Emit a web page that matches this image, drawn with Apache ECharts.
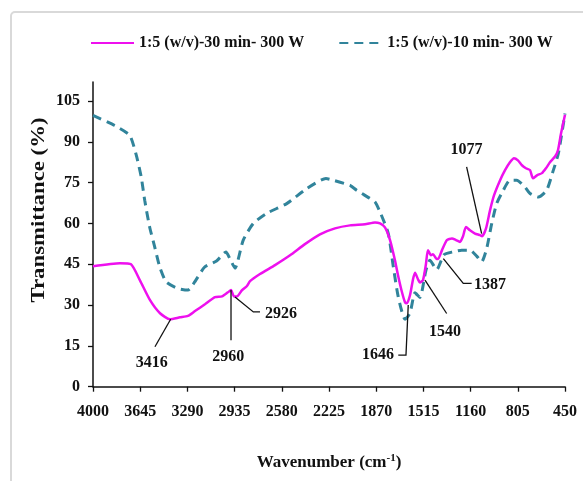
<!DOCTYPE html>
<html><head><meta charset="utf-8">
<script src="https://cdn.jsdelivr.net/npm/echarts@6/dist/echarts.min.js"></script>
<style>html,body{margin:0;padding:0;background:#fff}#c{width:583px;height:481px}</style>
</head><body><div id="c"></div>
<script>
const seriesNames = ['1:5 (w/v)-30 min- 300 W', '1:5 (w/v)-10 min- 300 W'];
const xTickLabels = [4000, 3645, 3290, 2935, 2580, 2225, 1870, 1515, 1160, 805, 450];
const yTickValues = [0, 15, 30, 45, 60, 75, 90, 105];

// 30 min series (wavenumber, transmittance)
const wn30 = [4000, 3797, 3714, 3646, 3571, 3496, 3421, 3346, 3286, 3233, 3158, 3082, 3030, 2985, 2962, 2940, 2917, 2879, 2842, 2819, 2744, 2631, 2518, 2406, 2293, 2180, 2067, 1954, 1879, 1841, 1804, 1766, 1729, 1706, 1676, 1653, 1638, 1616, 1593, 1578, 1556, 1541, 1518, 1496, 1481, 1458, 1443, 1420, 1405, 1375, 1338, 1300, 1270, 1240, 1217, 1195, 1165, 1127, 1089, 1074, 1044, 1014, 984, 939, 901, 864, 834, 804, 774, 744, 713, 691, 661, 623, 593, 563, 525, 503, 480, 450];
const tr30 = [44.3, 45.4, 45.0, 39.0, 31.8, 27.0, 24.8, 25.5, 26.0, 27.8, 30.3, 32.9, 33.2, 34.7, 35.5, 33.2, 33.2, 35.5, 37.0, 38.8, 41.4, 44.7, 48.3, 52.4, 56.0, 58.2, 59.3, 59.7, 60.4, 60.0, 58.6, 53.9, 46.5, 41.0, 34.7, 31.0, 30.7, 33.6, 39.5, 41.9, 39.5, 38.3, 39.2, 45.0, 50.2, 48.3, 48.7, 47.2, 46.9, 50.2, 53.9, 54.5, 53.9, 53.2, 55.3, 58.7, 57.5, 56.3, 55.7, 55.3, 58.2, 64.8, 70.3, 75.8, 79.6, 82.5, 84.0, 83.2, 81.4, 80.3, 79.6, 76.6, 77.7, 78.5, 80.3, 82.5, 84.6, 86.9, 93.1, 100.0];

// 10 min series
const wn10 = [4000, 3837, 3724, 3674, 3637, 3611, 3574, 3536, 3498, 3449, 3361, 3286, 3235, 3160, 3071, 3000, 2970, 2932, 2870, 2794, 2694, 2543, 2393, 2248, 2195, 2067, 2017, 1917, 1879, 1841, 1779, 1741, 1704, 1653, 1616, 1578, 1541, 1496, 1466, 1415, 1360, 1290, 1227, 1165, 1114, 1077, 1039, 1001, 964, 914, 864, 813, 751, 713, 651, 588, 538, 500, 450];
const tr10 = [99.7, 96.0, 92.4, 85.0, 77.0, 68.5, 58.7, 51.4, 44.0, 38.5, 36.1, 35.5, 38.5, 44.0, 46.2, 49.5, 47.0, 43.6, 53.9, 60.0, 63.7, 67.3, 72.8, 76.5, 75.9, 74.0, 72.2, 69.2, 67.9, 64.2, 56.3, 44.0, 33.0, 24.8, 27.0, 34.5, 32.8, 42.8, 46.5, 43.0, 48.5, 49.6, 50.2, 50.2, 48.0, 45.9, 50.8, 60.0, 67.3, 72.2, 75.9, 75.9, 73.4, 71.0, 69.7, 72.2, 79.5, 85.7, 100.4];

// peak annotations: label, leader path and label anchor in (wavenumber, transmittance)
const peakLabels = ['3416', '2960', '2926', '1646', '1540', '1387', '1077'];
const leaderPaths = [
  [[3416, 24.8], [3534, 14.7]],
  [[2962, 35.5], [2962, 17.1]],
  [[2932, 33.0], [2794, 27.5], [2744, 27.5]],
  [[1629, 30.0], [1646, 11.6], [1704, 11.6]],
  [[1503, 39.2], [1340, 26.9]],
  [[1365, 47.1], [1215, 38.0], [1152, 38.0]],
  [[1077, 56.3], [1190, 80.8]]
];
const labelAnchors = [[3559, 8.6], [2982, 11.0], [2706, 26.9], [1737, 11.6], [1353, 20.2], [1135, 37.3], [1190, 86.9]];
const labelAligns = ['center', 'center', 'left', 'right', 'center', 'left', 'center'];

const X = w => 4000 - w;
const FONT = '"Liberation Serif", "Times New Roman", serif';

const chart = echarts.init(document.getElementById('c'), null, {renderer: 'canvas'});
chart.setOption({
  animation: false,
  backgroundColor: '#ffffff',
  grid: {left: 93, right: 18, top: 82, bottom: 94.3},
  legend: {
    data: seriesNames,
    left: 90, top: 35, padding: 0,
    itemWidth: 43, itemHeight: 14, itemGap: 34,
    itemStyle: {opacity: 0},
    textStyle: {fontFamily: FONT, fontWeight: 'bold', fontSize: 16, color: '#111'}
  },
  xAxis: {
    type: 'value', min: 0, max: 3550, interval: 355,
    splitLine: {show: false},
    axisLine: {lineStyle: {color: '#111', width: 1.5}},
    axisTick: {length: 5, lineStyle: {color: '#111', width: 1.3}},
    axisLabel: {
      margin: 17, color: '#111', fontFamily: FONT, fontWeight: 'bold', fontSize: 16,
      formatter: v => String(xTickLabels[Math.round(v / 355)])
    },
    name: 'Wavenumber (cm{sup|-1})',
    nameLocation: 'middle', nameGap: 66,
    nameTextStyle: {
      fontFamily: FONT, fontWeight: 'bold', fontSize: 17, color: '#111',
      rich: {sup: {fontFamily: FONT, fontWeight: 'bold', fontSize: 11, color: '#111', verticalAlign: 'top', padding: [0, 0, 8, 0]}}
    }
  },
  yAxis: {
    type: 'value', min: 0, max: 112, interval: 15,
    splitLine: {show: false},
    axisLine: {show: true, lineStyle: {color: '#111', width: 1.5}},
    axisTick: {show: true, length: 5, customValues: yTickValues, lineStyle: {color: '#111', width: 1.3}},
    axisLabel: {
      margin: 13, color: '#111', fontFamily: FONT, fontWeight: 'bold', fontSize: 16,
      customValues: yTickValues
    }
  },
  graphic: [
    {type: 'rect', shape: {x: 11, y: 12, width: 700, height: 700, r: 4}, style: {fill: null, stroke: '#d9d9d9', lineWidth: 2}, z: -1},
    {type: 'text', x: 39, y: 210, rotation: Math.PI / 2, scaleX: 1.2,
     style: {text: 'Transmittance (%)', font: 'bold 19px ' + FONT, fill: '#111', align: 'center', verticalAlign: 'middle'}}
  ],
  series: [
    {
      name: seriesNames[0], type: 'line', symbol: 'none', smooth: 0.2,
      data: wn30.map((w, i) => [X(w), tr30[i]]),
      lineStyle: {color: '#EE10EE', width: 2.5},
      itemStyle: {color: '#EE10EE'}, z: 3
    },
    {
      name: seriesNames[1], type: 'line', symbol: 'none', smooth: 0.2,
      data: wn10.map((w, i) => [X(w), tr10[i]]),
      lineStyle: {color: '#31849B', width: 3, type: [9, 6]},
      itemStyle: {color: '#31849B'}, z: 2
    },
    {
      type: 'custom', silent: true, z: 4,
      data: leaderPaths.map(p => [X(p[0][0]), p[0][1]]),
      renderItem: function (params, api) {
        const i = params.dataIndex;
        const pts = leaderPaths[i].map(p => api.coord([X(p[0]), p[1]]));
        const t = api.coord([X(labelAnchors[i][0]), labelAnchors[i][1]]);
        return {type: 'group', children: [
          {type: 'polyline', shape: {points: pts}, style: {stroke: '#111', lineWidth: 1.3, fill: null}},
          {type: 'text', x: t[0], y: t[1], style: {text: peakLabels[i], font: 'bold 16px ' + FONT, fill: '#111', align: labelAligns[i], verticalAlign: 'middle'}}
        ]};
      }
    }
  ]
});
</script>
</body></html>
